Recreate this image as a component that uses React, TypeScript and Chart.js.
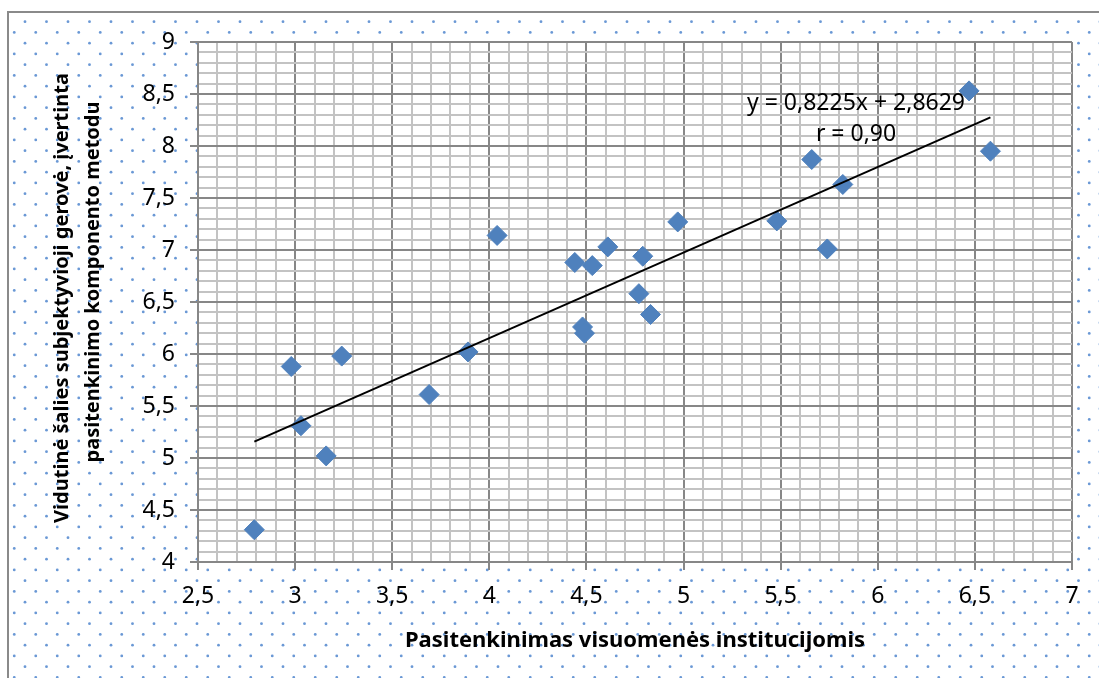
import React, { useEffect, useRef } from 'react';
import { Chart, registerables } from 'chart.js';

Chart.register(...registerables);

// ---- data ----
const xValues = [2.79, 2.98, 3.03, 3.16, 3.24, 3.69, 3.89, 4.04, 4.44, 4.48, 4.49, 4.53, 4.61, 4.77, 4.79, 4.83, 4.97, 5.48, 5.66, 5.74, 5.82, 6.47, 6.58];
const yValues = [4.31, 5.88, 5.31, 5.02, 5.98, 5.61, 6.02, 7.14, 6.88, 6.26, 6.2, 6.85, 7.03, 6.58, 6.94, 6.38, 7.27, 7.28, 7.87, 7.01, 7.63, 8.53, 7.95];
const trendSlope = 0.8225;
const trendIntercept = 2.8629;
const equationLines = ['y = 0,8225x + 2,8629', 'r = 0,90'];
const xAxisTitle = 'Pasitenkinimas visuomenės institucijomis';
const yAxisTitleLines = ['Vidutinė šalies subjektyvioji gerovė, įvertinta', 'pasitenkinimo komponento metodu'];
const xRange = [2.5, 7];
const yRange = [4, 9];
const minorStep = 0.1;

const FONT = '"Noto Sans", "Open Sans", sans-serif';
const MAJOR = '#878787';
const MINOR = '#c3c3c3';

const isMajor = (v: number) => Math.abs(v * 2 - Math.round(v * 2)) < 1e-6;
const fmt = (v: number) => (Math.round(v * 10) / 10).toString().replace('.', ',');

const decorPlugin = {
  id: 'decor',
  beforeDraw(chart: any) {
    const { ctx, width, height, chartArea } = chart;
    ctx.save();
    ctx.fillStyle = '#ffffff';
    ctx.fillRect(0, 0, width, height);
    // dotted pattern
    ctx.fillStyle = '#6a98d5';
    const sp = 21.5;
    for (let j = 0; ; j++) {
      const y = 21.7 + j * (sp / 2);
      if (y > height + 2) break;
      const x0 = j % 2 === 0 ? 25 : 25 - sp / 2;
      for (let x = x0; x < width + 2; x += sp) {
        ctx.beginPath();
        ctx.arc(x, y, 1.4, 0, Math.PI * 2);
        ctx.fill();
      }
    }
    // frame
    ctx.strokeStyle = '#8a8a8a';
    ctx.lineWidth = 2;
    ctx.beginPath();
    ctx.moveTo(8, height + 2);
    ctx.lineTo(8, 12);
    ctx.lineTo(width + 2, 12);
    ctx.stroke();
    // plot area background
    ctx.fillStyle = '#ffffff';
    ctx.fillRect(chartArea.left, chartArea.top, chartArea.right - chartArea.left, chartArea.bottom - chartArea.top);
    ctx.restore();
  },
  afterDraw(chart: any) {
    const { ctx } = chart;
    ctx.save();
    // y axis title (two rotated lines)
    ctx.fillStyle = '#000000';
    ctx.font = `bold 20px ${FONT}`;
    ctx.textAlign = 'center';
    ctx.textBaseline = 'alphabetic';
    const yt = [
      { x: 68, y: 298 },
      { x: 99, y: 282 },
    ];
    yAxisTitleLines.forEach((line, i) => {
      ctx.save();
      ctx.translate(yt[i].x, yt[i].y);
      ctx.rotate(-Math.PI / 2);
      ctx.fillText(line, 0, 0);
      ctx.restore();
    });
    // equation label
    ctx.font = `23px ${FONT}`;
    const eq = [
      { x: 856, y: 110 },
      { x: 856, y: 141 },
    ];
    equationLines.forEach((line, i) => {
      ctx.fillText(line, eq[i].x, eq[i].y);
    });
    ctx.restore();
  },
};

export default function App() {
  const canvasRef = useRef<HTMLCanvasElement | null>(null);

  useEffect(() => {
    if (!canvasRef.current) return;
    const points = xValues.map((x, i) => ({ x, y: yValues[i] }));
    const xMin = Math.min(...xValues);
    const xMax = Math.max(...xValues);
    const trend = [
      { x: xMin, y: trendSlope * xMin + trendIntercept },
      { x: xMax, y: trendSlope * xMax + trendIntercept },
    ];

    const gridColor = (c: any) => (isMajor(c.tick.value) ? MAJOR : MINOR);
    const tickColor = (c: any) => (isMajor(c.tick.value) ? MAJOR : 'rgba(0,0,0,0)');

    const chart = new Chart(canvasRef.current, {
      type: 'scatter',
      data: {
        datasets: [
          {
            type: 'line',
            data: trend,
            borderColor: '#000000',
            borderWidth: 2,
            pointRadius: 0,
            fill: false,
            order: 0,
          } as any,
          {
            type: 'scatter',
            data: points,
            pointStyle: 'rectRot',
            pointRadius: 10,
            pointBackgroundColor: '#4F81BD',
            pointBorderColor: '#4F81BD',
            pointBorderWidth: 1,
            order: 1,
          } as any,
        ],
      },
      plugins: [decorPlugin],
      options: {
        animation: false,
        responsive: true,
        maintainAspectRatio: false,
        events: [],
        layout: { padding: { left: 8, top: 42, right: 27, bottom: 0 } },
        plugins: {
          legend: { display: false },
          tooltip: { enabled: false },
        },
        scales: {
          x: {
            type: 'linear',
            min: xRange[0],
            max: xRange[1],
            afterFit: (s: any) => {
              s.height = 116;
            },
            ticks: {
              stepSize: minorStep,
              autoSkip: false,
              maxRotation: 0,
              padding: 13,
              color: '#000000',
              font: { family: FONT, size: 23 },
              callback: (v: any) => (isMajor(Number(v)) ? fmt(Number(v)) : ''),
            },
            grid: {
              color: gridColor,
              tickColor: tickColor,
              lineWidth: 2,
              tickLength: 8,
            },
            border: { color: MAJOR, width: 2 },
            title: {
              display: true,
              text: xAxisTitle,
              color: '#000000',
              font: { family: FONT, size: 22, weight: 'bold' },
              padding: { top: 0, bottom: 24 },
            },
          },
          y: {
            type: 'linear',
            min: yRange[0],
            max: yRange[1],
            afterFit: (s: any) => {
              s.width = 190;
            },
            ticks: {
              stepSize: minorStep,
              autoSkip: false,
              padding: 15,
              color: '#000000',
              font: { family: FONT, size: 23 },
              callback: (v: any) => (isMajor(Number(v)) ? fmt(Number(v)) : ''),
            },
            grid: {
              color: gridColor,
              tickColor: tickColor,
              lineWidth: 2,
              tickLength: 8,
            },
            border: { color: MAJOR, width: 2 },
          },
        },
      } as any,
    });
    return () => chart.destroy();
  }, []);

  return (
    <div style={{ position: 'absolute', left: 0, top: 0, width: 1099, height: 678 }}>
      <canvas ref={canvasRef} />
    </div>
  );
}
